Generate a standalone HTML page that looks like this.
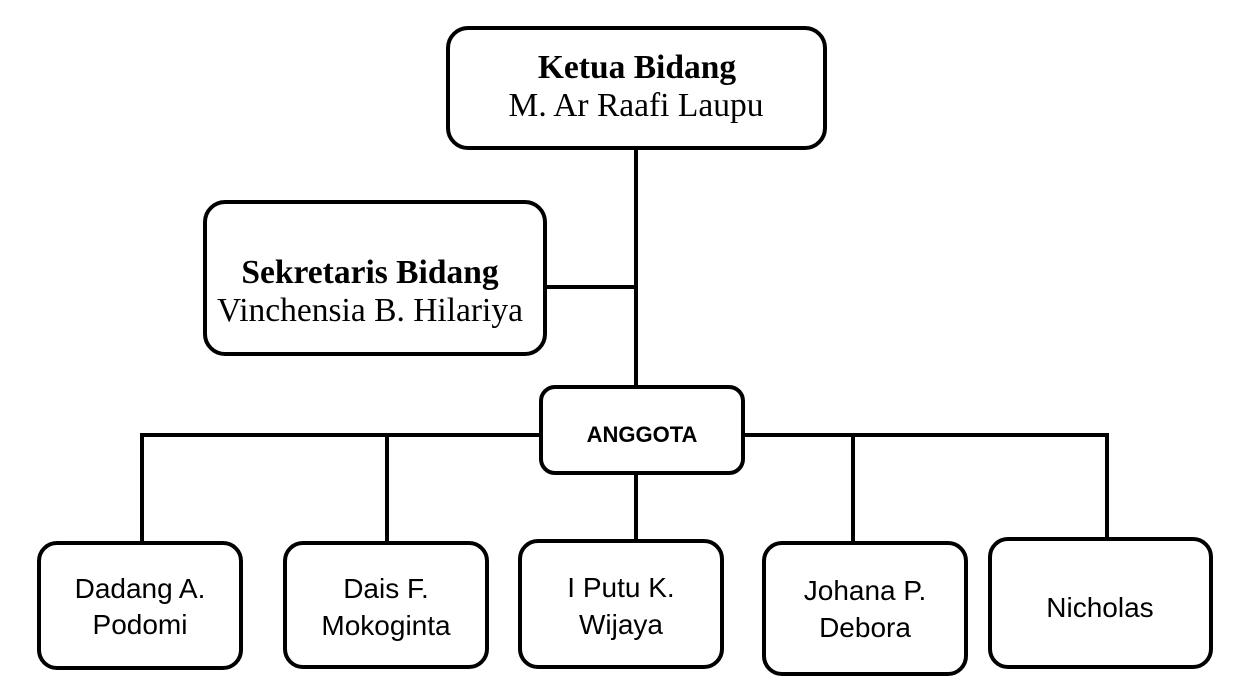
<!DOCTYPE html>
<html><head><style>
html,body{margin:0;padding:0;background:#fff;width:1241px;height:699px;overflow:hidden}
</style></head><body>
<svg width="1241" height="699" viewBox="0 0 1241 699" xmlns="http://www.w3.org/2000/svg">
<g stroke="#000" stroke-width="4" fill="none">
<line x1="636" y1="148" x2="636" y2="388"/>
<line x1="546" y1="287" x2="636" y2="287"/>
<line x1="140" y1="435" x2="541" y2="435"/>
<line x1="743" y1="435" x2="1109" y2="435"/>
<line x1="142" y1="435" x2="142" y2="543"/>
<line x1="387" y1="435" x2="387" y2="543"/>
<line x1="636" y1="472" x2="636" y2="541"/>
<line x1="853" y1="435" x2="853" y2="543"/>
<line x1="1107" y1="435" x2="1107" y2="540"/>
</g>
<g stroke="#000" stroke-width="4" fill="#fff">
<rect x="448" y="28" width="377" height="120" rx="20"/>
<rect x="205" y="202" width="340" height="152" rx="20"/>
<rect x="541" y="387" width="202" height="86" rx="14"/>
<rect x="39" y="543" width="202" height="125" rx="18"/>
<rect x="285" y="543" width="202" height="124" rx="18"/>
<rect x="520" y="541" width="202" height="126" rx="18"/>
<rect x="764" y="543" width="202" height="131" rx="18"/>
<rect x="990" y="539" width="221" height="128" rx="18"/>
</g>
<g font-family="Liberation Serif, serif" font-size="33.5" text-anchor="middle" fill="#000">
<text x="637" y="78" font-weight="bold">Ketua Bidang</text>
<text x="636" y="116">M. Ar Raafi Laupu</text>
<text x="370" y="283" font-weight="bold">Sekretaris Bidang</text>
<text x="370" y="321">Vinchensia B. Hilariya</text>
</g>
<g font-family="Liberation Sans, sans-serif" text-anchor="middle" fill="#000">
<text x="642" y="442" font-size="22" font-weight="bold">ANGGOTA</text>
<g font-size="28">
<text x="140" y="598">Dadang A.</text>
<text x="140" y="634">Podomi</text>
<text x="386" y="598">Dais F.</text>
<text x="386" y="635">Mokoginta</text>
<text x="621" y="597">I Putu K.</text>
<text x="621" y="634">Wijaya</text>
<text x="865" y="600">Johana P.</text>
<text x="865" y="637">Debora</text>
<text x="1100" y="617">Nicholas</text>
</g>
</g>
</svg>
</body></html>
